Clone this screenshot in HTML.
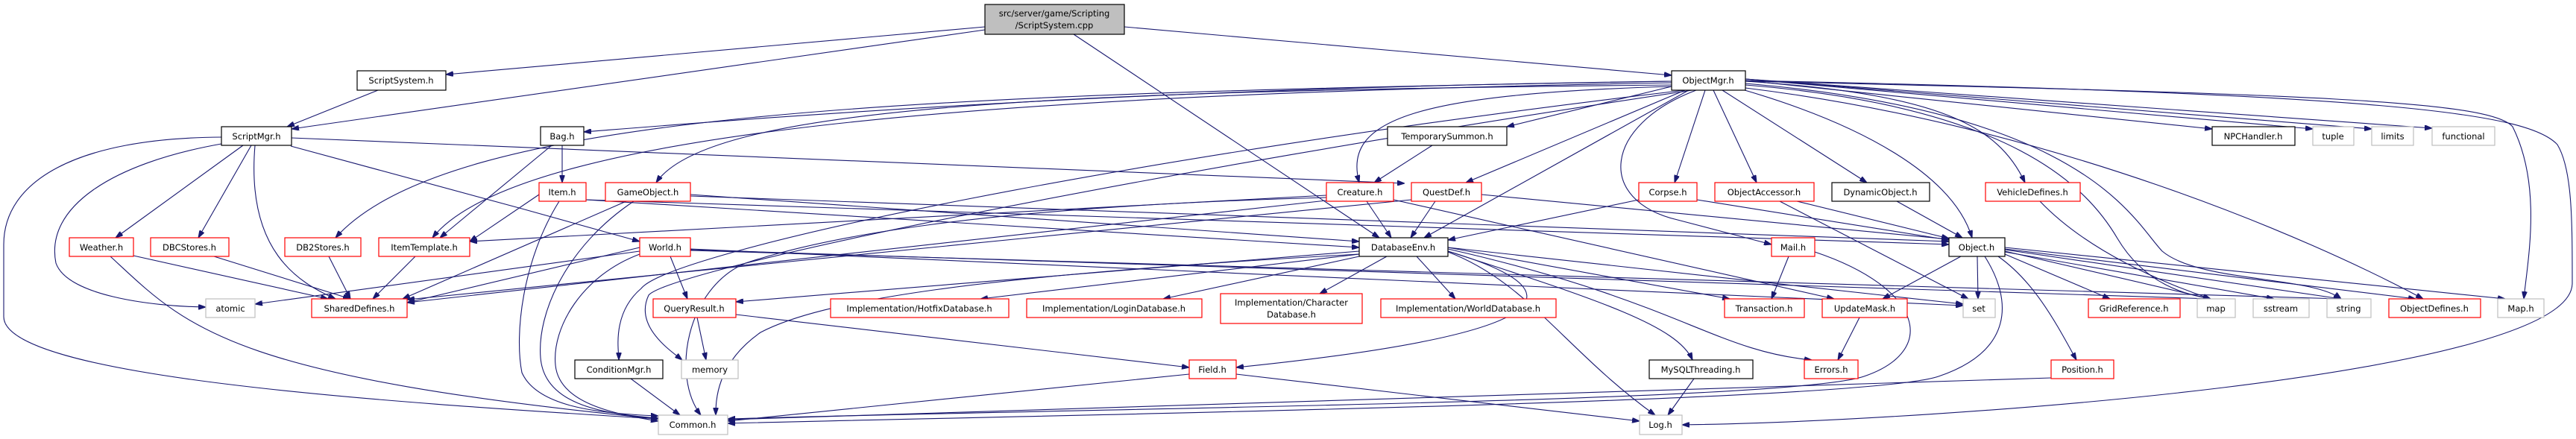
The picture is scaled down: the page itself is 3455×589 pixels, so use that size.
<!DOCTYPE html>
<html><head><meta charset="utf-8"><style>
html,body{margin:0;padding:0;background:#fff;overflow:hidden;}
svg{display:block;}
text{font-family:"DejaVu Sans","Liberation Sans",sans-serif;font-size:11.5px;text-anchor:middle;fill:#000;}
.e{fill:none;stroke:#191970;stroke-width:1.1;marker-end:url(#a);}
.b{fill:#fff;stroke:#000;stroke-width:1.2;}
.r{fill:#fff;stroke:#ff0000;stroke-width:1.2;}
.g{fill:#fff;stroke:#bfbfbf;stroke-width:1.2;}
</style></head><body>
<svg width="3455" height="589" viewBox="0 0 3455 589" xmlns="http://www.w3.org/2000/svg">
<defs><marker id="a" markerWidth="10" markerHeight="7" refX="10" refY="3.5" orient="auto" markerUnits="userSpaceOnUse"><path d="M0,0 L10,3.5 L0,7 z" fill="#191970" stroke="#191970"/></marker></defs>
<g>
<path class="e" d="M1321,36 L598,100"/>
<path class="e" d="M1321,40 L391,173"/>
<path class="e" d="M1440,46 L1850,319"/>
<path class="e" d="M1508,36 L2242,101"/>
<path class="e" d="M507,121 L385,170"/>
<path class="e" d="M326,195 L155,319"/>
<path class="e" d="M337,195 L266,319"/>
<path class="e" d="M342,195 C330,337 400,379 450,401"/>
<path class="e" d="M297,193 C150,219 60,278 75,353 C90,396 200,411 276,412"/>
<path class="e" d="M297,184 C100,185 5,244 5,328 L5,425 C5,505 500,539 883,562"/>
<path class="e" d="M390,196 L700,280 L858,324"/>
<path class="e" d="M391,185 L1884,246"/>
<path class="e" d="M754,195 L754,245"/>
<path class="e" d="M740,195 L590,319"/>
<path class="e" d="M2242,109 C1500,118 1000,160 783,177"/>
<path class="e" d="M2242,109 C1200,126 600,151 450,319"/>
<path class="e" d="M2242,111 C1400,126 700,168 580,319"/>
<path class="e" d="M2242,114 C1400,122 950,143 880,245"/>
<path class="e" d="M2260,121 C1500,210 900,337 860,387 C820,421 830,471 830,483"/>
<path class="e" d="M2270,121 C1500,236 900,362 870,396 C850,438 900,471 915,483"/>
<path class="e" d="M2242,116 L2021,170"/>
<path class="e" d="M2242,116 C1900,126 1800,160 1823,245"/>
<path class="e" d="M2260,121 L1966,245"/>
<path class="e" d="M2265,121 L1910,319"/>
<path class="e" d="M2287,121 L2246,245"/>
<path class="e" d="M2298,121 L2356,245"/>
<path class="e" d="M2310,121 L2504,245"/>
<path class="e" d="M2340,121 C2500,168 2620,236 2645,319"/>
<path class="e" d="M2275,121 C2150,168 2140,269 2250,295 L2376,328"/>
<path class="e" d="M2341,109 C2600,126 2680,168 2716,245"/>
<path class="e" d="M2341,108 L2967,173"/>
<path class="e" d="M2341,106 L3102,173"/>
<path class="e" d="M2341,106 L3181,173"/>
<path class="e" d="M2341,106 L3262,172"/>
<path class="e" d="M2341,114 C2700,143 2800,252 2840,320 C2880,387 2940,396 2965,401"/>
<path class="e" d="M2341,112 C2800,151 2860,295 2900,337 C2950,379 3100,370 3140,401"/>
<path class="e" d="M2341,118 C2750,168 3100,320 3250,401"/>
<path class="e" d="M2341,109 C3100,126 3340,135 3370,170 C3410,250 3390,350 3385,401"/>
<path class="e" d="M2341,108 C3200,126 3390,151 3430,194 C3450,227 3450,295 3450,380 C3450,505 2600,565 2256,570"/>
<path class="e" d="M723,261 L630,324"/>
<path class="e" d="M750,270 C700,350 690,450 700,500 C720,545 800,555 883,558"/>
<path class="e" d="M786,268 L1823,332"/>
<path class="e" d="M786,268 L2614,328"/>
<path class="e" d="M840,270 L540,401"/>
<path class="e" d="M850,270 C760,330 720,420 725,480 C730,540 800,555 883,561"/>
<path class="e" d="M926,261 L1823,324"/>
<path class="e" d="M926,263 L2614,324"/>
<path class="e" d="M858,337 L342,408"/>
<path class="e" d="M858,332 L546,406"/>
<path class="e" d="M858,341 C780,370 740,440 745,490 C750,540 820,555 883,565"/>
<path class="e" d="M899,344 L922,401"/>
<path class="e" d="M926,334 L2633,410"/>
<path class="e" d="M926,335 L2965,401"/>
<path class="e" d="M926,336 L3140,401"/>
<path class="e" d="M1779,262 L630,324"/>
<path class="e" d="M1833,270 L1866,319"/>
<path class="e" d="M1779,269 L546,406"/>
<path class="e" d="M1779,265 C1300,278 1100,320 1000,353 C920,387 900,505 940,557"/>
<path class="e" d="M1869,268 L2460,401"/>
<path class="e" d="M1925,270 L1892,319"/>
<path class="e" d="M1893,268 L546,402"/>
<path class="e" d="M1987,261 L2614,321"/>
<path class="e" d="M1921,195 L1843,245"/>
<path class="e" d="M1823,337 L987,405"/>
<path class="e" d="M1823,341 L1315,401"/>
<path class="e" d="M1823,344 L1560,401"/>
<path class="e" d="M1860,344 L1770,394"/>
<path class="e" d="M1900,344 L1952,401"/>
<path class="e" d="M1942,337 C2110,387 2120,446 1658,493"/>
<path class="e" d="M1942,332 L2320,401"/>
<path class="e" d="M1942,337 C2150,404 2250,438 2270,483"/>
<path class="e" d="M1942,334 C2250,404 2300,471 2430,483"/>
<path class="e" d="M1942,338 C2050,379 2100,471 2220,557"/>
<path class="e" d="M1823,341 C1300,370 1100,404 1020,446 C960,488 960,539 960,557"/>
<path class="e" d="M1942,332 L2633,408"/>
<path class="e" d="M2198,268 L1942,322"/>
<path class="e" d="M2276,268 L2614,322"/>
<path class="e" d="M2410,270 L2614,320"/>
<path class="e" d="M2387,270 L2640,401"/>
<path class="e" d="M2544,270 L2632,319"/>
<path class="e" d="M2399,344 L2376,401"/>
<path class="e" d="M2434,338 C2580,387 2600,471 2500,505 C2400,539 1500,547 976,562"/>
<path class="e" d="M2630,344 L2525,401"/>
<path class="e" d="M2652,344 L2653,401"/>
<path class="e" d="M2662,344 C2700,404 2700,471 2600,505 C2500,539 1500,555 976,568"/>
<path class="e" d="M2680,344 C2730,379 2760,438 2785,483"/>
<path class="e" d="M2689,341 L2830,401"/>
<path class="e" d="M2689,337 L2965,401"/>
<path class="e" d="M2689,338 L3050,401"/>
<path class="e" d="M2689,335 L3140,401"/>
<path class="e" d="M2689,334 L3240,401"/>
<path class="e" d="M2689,332 L3360,401"/>
<path class="e" d="M2736,270 C2800,337 2900,379 2965,401"/>
<path class="e" d="M2494,426 L2465,483"/>
<path class="e" d="M935,426 L947,483"/>
<path class="e" d="M987,422 L1595,493"/>
<path class="e" d="M1595,502 L976,565"/>
<path class="e" d="M1658,502 L2199,565"/>
<path class="e" d="M846,508 L912,557"/>
<path class="e" d="M2272,508 L2237,557"/>
<path class="e" d="M2751,507 L976,563"/>
<path class="e" d="M179,343 L440,401"/>
<path class="e" d="M148,344 C250,438 300,505 883,562"/>
<path class="e" d="M287,344 L470,401"/>
<path class="e" d="M441,344 L470,401"/>
<path class="e" d="M557,344 L500,401"/>
</g>
<g>
<rect x="1321" y="6" width="187" height="40" fill="#bfbfbf" stroke="#000" stroke-width="1.2"/>
<text x="1414" y="22">src/server/game/Scripting</text><text x="1414" y="38">/ScriptSystem.cpp</text>

<rect class="b" x="479" y="95" width="119" height="26"/><text x="538" y="112">ScriptSystem.h</text>
<rect class="b" x="2242" y="95" width="99" height="26"/><text x="2291" y="112">ObjectMgr.h</text>

<rect class="b" x="297" y="170" width="94" height="25"/><text x="344" y="187">ScriptMgr.h</text>
<rect class="b" x="725" y="170" width="58" height="25"/><text x="754" y="187">Bag.h</text>
<rect class="b" x="1861" y="170" width="160" height="25"/><text x="1941" y="187">TemporarySummon.h</text>
<rect class="b" x="2967" y="170" width="111" height="25"/><text x="3022" y="187">NPCHandler.h</text>
<rect class="g" x="3102" y="170" width="55" height="25"/><text x="3129" y="187">tuple</text>
<rect class="g" x="3181" y="170" width="56" height="25"/><text x="3209" y="187">limits</text>
<rect class="g" x="3262" y="170" width="84" height="25"/><text x="3304" y="187">functional</text>

<rect class="r" x="723" y="245" width="63" height="25"/><text x="754" y="262">Item.h</text>
<rect class="r" x="812" y="245" width="114" height="25"/><text x="869" y="262">GameObject.h</text>
<rect class="r" x="1779" y="245" width="90" height="25"/><text x="1824" y="262">Creature.h</text>
<rect class="r" x="1893" y="245" width="94" height="25"/><text x="1940" y="262">QuestDef.h</text>
<rect class="r" x="2198" y="245" width="78" height="25"/><text x="2237" y="262">Corpse.h</text>
<rect class="r" x="2300" y="245" width="133" height="25"/><text x="2366" y="262">ObjectAccessor.h</text>
<rect class="b" x="2457" y="245" width="131" height="25"/><text x="2522" y="262">DynamicObject.h</text>
<rect class="r" x="2663" y="245" width="127" height="25"/><text x="2726" y="262">VehicleDefines.h</text>

<rect class="r" x="93" y="319" width="86" height="25"/><text x="136" y="336">Weather.h</text>
<rect class="r" x="202" y="319" width="105" height="25"/><text x="254" y="336">DBCStores.h</text>
<rect class="r" x="382" y="319" width="102" height="25"/><text x="433" y="336">DB2Stores.h</text>
<rect class="r" x="508" y="319" width="122" height="25"/><text x="569" y="336">ItemTemplate.h</text>
<rect class="r" x="858" y="319" width="68" height="25"/><text x="892" y="336">World.h</text>
<rect class="b" x="1823" y="319" width="119" height="25"/><text x="1882" y="336">DatabaseEnv.h</text>
<rect class="r" x="2376" y="319" width="58" height="25"/><text x="2405" y="336">Mail.h</text>
<rect class="b" x="2614" y="319" width="75" height="25"/><text x="2651" y="336">Object.h</text>

<rect class="g" x="276" y="401" width="66" height="25"/><text x="309" y="418">atomic</text>
<rect class="r" x="418" y="401" width="128" height="25"/><text x="482" y="418">SharedDefines.h</text>
<rect class="r" x="876" y="401" width="111" height="25"/><text x="931" y="418">QueryResult.h</text>
<rect class="r" x="1114" y="401" width="239" height="25"/><text x="1233" y="418">Implementation/HotfixDatabase.h</text>
<rect class="r" x="1377" y="401" width="235" height="25"/><text x="1494" y="418">Implementation/LoginDatabase.h</text>
<rect class="r" x="1637" y="394" width="190" height="40"/><text x="1732" y="410">Implementation/Character</text><text x="1732" y="426">Database.h</text>
<rect class="r" x="1852" y="401" width="235" height="25"/><text x="1969" y="418">Implementation/WorldDatabase.h</text>
<rect class="r" x="2313" y="401" width="107" height="25"/><text x="2366" y="418">Transaction.h</text>
<rect class="r" x="2444" y="401" width="114" height="25"/><text x="2501" y="418">UpdateMask.h</text>
<rect class="g" x="2633" y="401" width="43" height="25"/><text x="2654" y="418">set</text>
<rect class="r" x="2801" y="401" width="123" height="25"/><text x="2862" y="418">GridReference.h</text>
<rect class="g" x="2947" y="401" width="51" height="25"/><text x="2972" y="418">map</text>
<rect class="g" x="3022" y="401" width="75" height="25"/><text x="3059" y="418">sstream</text>
<rect class="g" x="3121" y="401" width="59" height="25"/><text x="3150" y="418">string</text>
<rect class="r" x="3204" y="401" width="123" height="25"/><text x="3265" y="418">ObjectDefines.h</text>
<rect class="g" x="3350" y="401" width="62" height="25"/><text x="3381" y="418">Map.h</text>

<rect class="b" x="771" y="483" width="118" height="25"/><text x="830" y="500">ConditionMgr.h</text>
<rect class="g" x="914" y="483" width="76" height="25"/><text x="952" y="500">memory</text>
<rect class="r" x="1595" y="483" width="63" height="25"/><text x="1626" y="500">Field.h</text>
<rect class="b" x="2212" y="483" width="139" height="25"/><text x="2281" y="500">MySQLThreading.h</text>
<rect class="r" x="2420" y="483" width="72" height="25"/><text x="2456" y="500">Errors.h</text>
<rect class="r" x="2751" y="483" width="84" height="25"/><text x="2793" y="500">Position.h</text>

<rect class="g" x="883" y="557" width="93" height="26"/><text x="929" y="574">Common.h</text>
<rect class="g" x="2199" y="557" width="57" height="26"/><text x="2227" y="574">Log.h</text>
</g>
</svg>
</body></html>
